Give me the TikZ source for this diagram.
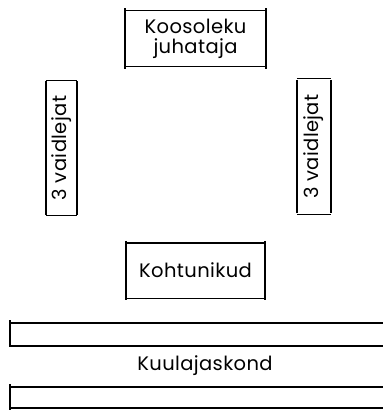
\documentclass[tikz,border=0pt]{standalone}
\usepackage{fontspec}
\setmainfont{Poppins}[LetterSpace=2]
\begin{document}
\begin{tikzpicture}[x=1pt,y=1pt,
  seat/.style={inner sep=0pt, font=\fontsize{19.5}{20}\selectfont, align=center},
  hline/.style={line width=1.4pt},
  vline/.style={line width=2pt}]
\useasboundingbox (0,0) rectangle (383,-411);

% presiding chair
\node[seat, minimum width=140pt, minimum height=56pt] (chair) at (195.5,-38.5) {Koosoleku\\juhataja};
% the two disputing parties (text reads upwards)
\node[seat, minimum width=133pt, minimum height=31pt, rotate=90] (left) at (61.5,-148) {3 vaidlejat};
\node[seat, minimum width=133pt, minimum height=34pt, rotate=90] (right) at (314,-146.5) {3 vaidlejat};
% judges
\node[seat, minimum width=139pt, minimum height=55pt] (judges) at (195.5,-270.5) {Kohtunikud};
% audience
\node[seat] (audience) at (205,-366) {Kuulajaskond};

% box outlines: thin horizontals, heavier sides
\foreach \n in {chair,judges}{
  \draw[hline] (\n.north west) -- (\n.north east);
  \draw[hline] (\n.south west) -- (\n.south east);
  \draw[vline] ([yshift=2pt]\n.north west) -- ([yshift=-2pt]\n.south west);
  \draw[vline] ([yshift=2pt]\n.north east) -- ([yshift=-2pt]\n.south east);
}
\foreach \n in {left,right}{
  % rotated nodes: east is the top, north the left side
  \draw[hline] ([yshift=1pt]\n.north east) -- ([yshift=1pt]\n.south east);
  \draw[hline] ([yshift=-1pt]\n.north west) -- ([yshift=-1pt]\n.south west);
  \draw[vline] (\n.north east) -- (\n.north west);
  \draw[vline] (\n.south east) -- (\n.south west);
}

% benches of the audience
\coordinate (b1l) at (10,-323); \coordinate (b1r) at (383,-323);
\coordinate (b2l) at (10,-346); \coordinate (b2r) at (383,-346);
\coordinate (b3l) at (10,-387); \coordinate (b3r) at (383,-387);
\coordinate (b4l) at (10,-408); \coordinate (b4r) at (383,-408);
\draw[hline] (b1l) -- (b1r);
\draw[hline] (b2l) -- (b2r);
\draw[hline] (b3l) -- (b3r);
\draw[hline] (b4l) -- (b4r);
\draw[vline] ([yshift=3pt]b1l) -- ([yshift=-1pt]b2l);
\draw[vline] ([yshift=3pt]b3l) -- ([yshift=-2pt]b4l);
\end{tikzpicture}
\end{document}
